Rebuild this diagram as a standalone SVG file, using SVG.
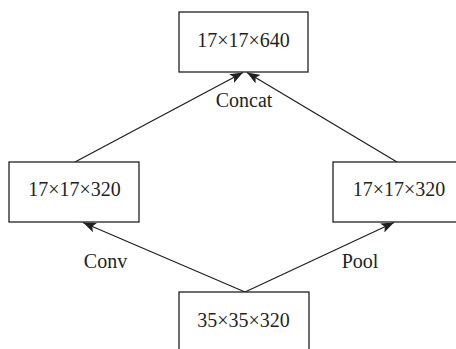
<svg xmlns="http://www.w3.org/2000/svg" width="456" height="349" viewBox="0 0 456 349">
  <style>
    .box { fill: #ffffff; stroke: #231f20; stroke-width: 1.3; }
    .lbl { font-family: "Liberation Serif", "Times New Roman", serif; font-size: 20px; fill: #231f20; text-anchor: middle; }
    .edge { stroke: #231f20; stroke-width: 1.3; fill: none; marker-end: url(#arrow); }
  </style>
  <defs>
    <marker id="arrow" markerUnits="userSpaceOnUse" markerWidth="14" markerHeight="10" refX="13" refY="5" orient="auto">
      <path d="M0,0 L13,5 L0,10 L3,5 Z" fill="#231f20"/>
    </marker>
  </defs>
  <rect width="456" height="349" fill="#ffffff"/>

  <g id="connectors">
    <line class="edge" x1="245" y1="292" x2="83" y2="222.5"/>
    <line class="edge" x1="245" y1="292" x2="394" y2="222.5"/>
    <line class="edge" x1="75" y1="162" x2="243" y2="72.5"/>
    <line class="edge" x1="397" y1="162" x2="247" y2="72.5"/>
  </g>

  <g id="node-concat-out">
    <rect class="box" x="179" y="12" width="129" height="60"/>
    <text class="lbl" x="243.5" y="47">17×17×640</text>
  </g>
  <g id="node-conv-out">
    <rect class="box" x="9" y="162" width="130" height="60"/>
    <text class="lbl" x="74.5" y="196">17×17×320</text>
  </g>
  <g id="node-pool-out">
    <rect class="box" x="333" y="162" width="130" height="60"/>
    <text class="lbl" x="399" y="196">17×17×320</text>
  </g>
  <g id="node-input">
    <rect class="box" x="179" y="292" width="130" height="70"/>
    <text class="lbl" x="243.5" y="327">35×35×320</text>
  </g>

  <g id="edge-labels">
    <text class="lbl" x="105.5" y="268">Conv</text>
    <text class="lbl" x="360" y="268">Pool</text>
    <text class="lbl" x="244" y="107">Concat</text>
  </g>
</svg>
